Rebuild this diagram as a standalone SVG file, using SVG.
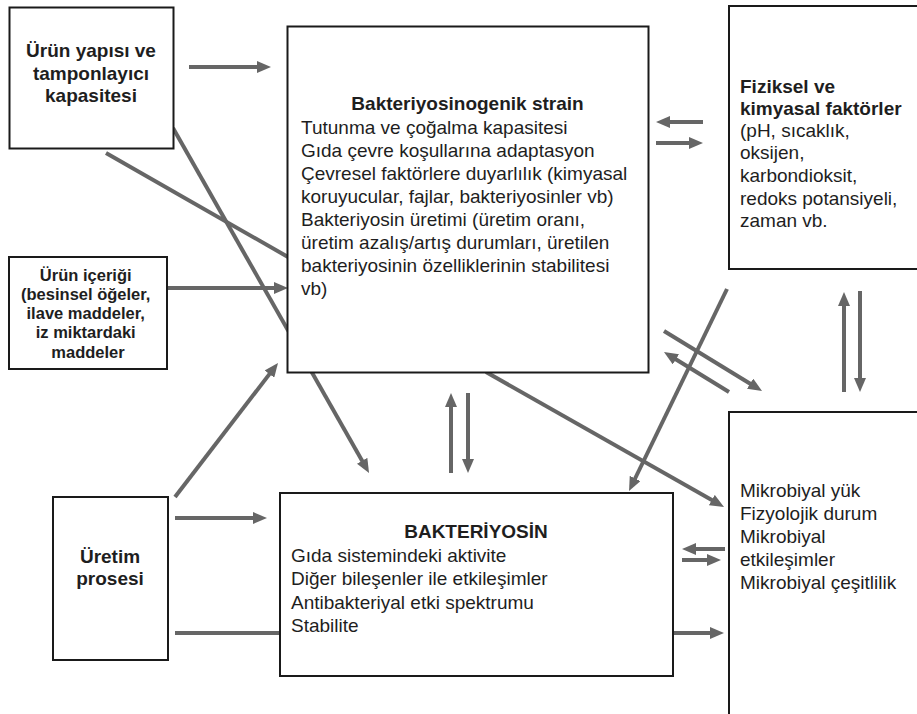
<svg xmlns="http://www.w3.org/2000/svg" width="917" height="714" viewBox="0 0 917 714">
<style>
.box{fill:#fff;stroke:#1a1a1a;stroke-width:2}
.t{font-family:"Liberation Sans",Arial,sans-serif;font-size:19px;fill:#1e1e1e}
.b{font-weight:bold}
.c{text-anchor:middle}
.ln{stroke:#666;stroke-width:4;fill:none}
.ar{stroke:#666;stroke-width:4;fill:none;marker-end:url(#ah)}
</style>
<defs>
<marker id="ah" viewBox="0 0 14 12" markerWidth="14" markerHeight="12" refX="4" refY="6" orient="auto" markerUnits="userSpaceOnUse">
<path d="M0,0 L14,6 L0,12 z" fill="#666"/>
</marker>
</defs>
<rect width="917" height="714" fill="#fff"/>

<g id="connectors">
<line class="ar" x1="189" y1="67" x2="261" y2="67"/>
<line class="ar" x1="167" y1="288" x2="278" y2="288"/>
<line class="ar" x1="175" y1="518" x2="257" y2="518"/>
<line class="ln" x1="175" y1="633" x2="280" y2="633"/>
<line class="ar" x1="175" y1="497" x2="271.9" y2="370.9"/>
<line class="ar" x1="173" y1="128" x2="364.1" y2="464.3"/>
<line class="ln" x1="106" y1="153" x2="288" y2="257"/>
<line class="ar" x1="451" y1="473" x2="451" y2="403"/>
<line class="ar" x1="468" y1="393" x2="468" y2="463"/>
<line class="ar" x1="486" y1="372" x2="715.3" y2="502.1"/>
<line class="ar" x1="727" y1="289" x2="633.4" y2="482"/>
<line class="ar" x1="664" y1="331" x2="753.5" y2="385.8"/>
<line class="ar" x1="729" y1="392" x2="672.5" y2="357.2"/>
<line class="ar" x1="844" y1="392" x2="844" y2="302"/>
<line class="ar" x1="860" y1="291" x2="860" y2="382"/>
<line class="ar" x1="703" y1="122" x2="666" y2="122"/>
<line class="ar" x1="656" y1="143" x2="693" y2="143"/>
<line class="ar" x1="725" y1="549" x2="692" y2="549"/>
<line class="ar" x1="682" y1="560" x2="711" y2="560"/>
<line class="ar" x1="673" y1="633" x2="714" y2="633"/>
</g>

<g id="urun-yapisi">
<rect class="box" x="9.5" y="7.5" width="164" height="141"/>
<text class="t b c" x="91" y="57">Ürün yapısı ve</text>
<text class="t b c" x="91" y="80">tamponlayıcı</text>
<text class="t b c" x="91" y="102">kapasitesi</text>
</g>

<g id="strain">
<rect class="box" x="287.5" y="26.5" width="361" height="346"/>
<text class="t b c" x="467.5" y="110">Bakteriyosinogenik strain</text>
<text class="t" x="301">
<tspan x="301" y="134">Tutunma ve çoğalma kapasitesi</tspan>
<tspan x="301" y="157">Gıda çevre koşullarına adaptasyon</tspan>
<tspan x="301" y="180">Çevresel faktörlere duyarlılık (kimyasal</tspan>
<tspan x="301" y="203">koruyucular, fajlar, bakteriyosinler vb)</tspan>
<tspan x="301" y="226">Bakteriyosin üretimi (üretim oranı,</tspan>
<tspan x="301" y="249">üretim azalış/artış durumları, üretilen</tspan>
<tspan x="301" y="272">bakteriyosinin özelliklerinin stabilitesi</tspan>
<tspan x="301" y="295">vb)</tspan>
</text>
</g>

<g id="fiziksel">
<rect class="box" x="729" y="6" width="200" height="263"/>
<text class="t b" x="740" y="93">Fiziksel ve</text>
<text class="t b" x="740" y="115">kimyasal faktörler</text>
<text class="t" x="740">
<tspan x="740" y="137">(pH, sıcaklık,</tspan>
<tspan x="740" y="159">oksijen,</tspan>
<tspan x="740" y="182">karbondioksit,</tspan>
<tspan x="740" y="205">redoks potansiyeli,</tspan>
<tspan x="740" y="227">zaman vb.</tspan>
</text>
</g>

<g id="urun-icerigi">
<rect class="box" x="9" y="257" width="158" height="112"/>
<text class="t b c" style="font-size:16.5px">
<tspan x="88" y="281">Ürün içeriği</tspan>
<tspan x="88" y="300">(besinsel öğeler,</tspan>
<tspan x="88" y="319">ilave maddeler,</tspan>
<tspan x="88" y="338">iz miktardaki</tspan>
<tspan x="88" y="358">maddeler</tspan>
</text>
</g>

<g id="uretim">
<rect class="box" x="53" y="497" width="115" height="163"/>
<text class="t b c" x="110" y="563">Üretim</text>
<text class="t b c" x="110" y="585">prosesi</text>
</g>

<g id="bakteriyosin">
<rect class="box" x="280" y="493" width="393" height="183"/>
<text class="t b c" x="476" y="538">BAKTERİYOSİN</text>
<text class="t">
<tspan x="291" y="562">Gıda sistemindeki aktivite</tspan>
<tspan x="291" y="585">Diğer bileşenler ile etkileşimler</tspan>
<tspan x="291" y="609">Antibakteriyal etki spektrumu</tspan>
<tspan x="291" y="632">Stabilite</tspan>
</text>
</g>

<g id="mikrobiyal">
<rect class="box" x="729" y="412" width="200" height="320"/>
<text class="t">
<tspan x="740" y="497">Mikrobiyal yük</tspan>
<tspan x="740" y="520">Fizyolojik durum</tspan>
<tspan x="740" y="543">Mikrobiyal</tspan>
<tspan x="740" y="566">etkileşimler</tspan>
<tspan x="740" y="589">Mikrobiyal çeşitlilik</tspan>
</text>
</g>
</svg>
